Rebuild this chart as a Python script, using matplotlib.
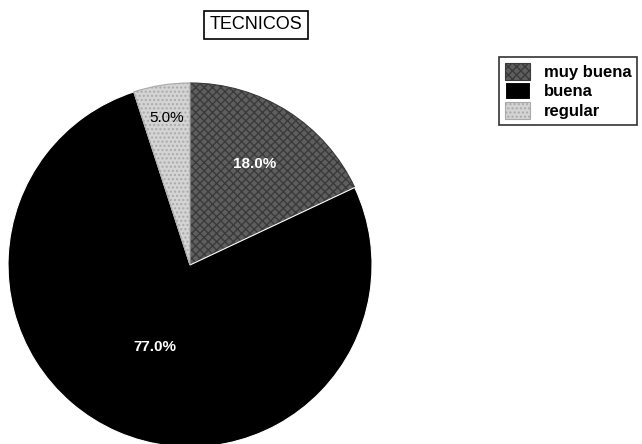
import matplotlib.pyplot as plt
import numpy as np

plt.rcParams['font.family'] = ['Liberation Sans', 'DejaVu Sans']

categorias = ['muy buena', 'buena', 'regular']
valores = [18.0, 77.0, 5.0]
colores = ['#5e5e5e', '#000000', '#d4d4d4']
etiquetas_color = ['white', 'white', 'black']
dist_etiqueta = [0.66, 0.49, 0.82]

fig = plt.figure(figsize=(6.42, 4.44), dpi=100)
ax = fig.add_axes([0.0125, -0.0068, 0.567, 0.82])

wedges, texts, autotexts = ax.pie(valores, colors=colores, startangle=90,
                                  counterclock=False, autopct='%1.1f%%',
                                  wedgeprops=dict(linewidth=0.8, edgecolor='white'))
wedges[0].set_hatch('xxxx')
wedges[0].set_edgecolor('#3a3a3a')
wedges[2].set_hatch('....')
wedges[2].set_edgecolor('#aaaaaa')

for w, t, c, d in zip(wedges, autotexts, etiquetas_color, dist_etiqueta):
    ang = np.deg2rad((w.theta1 + w.theta2) / 2)
    t.set_position((d * np.cos(ang), d * np.sin(ang)))
    t.set_color(c)
    t.set_fontsize(11)
    t.set_fontweight('bold' if c == 'white' else 'normal')

ax.set_xlim(-1, 1)
ax.set_ylim(-1, 1)
ax.set_aspect('equal')

fig.text(0.399, 0.944, 'TECNICOS', ha='center', va='center', fontsize=13,
         bbox=dict(boxstyle='square,pad=0.3', facecolor='white', edgecolor='black', linewidth=1.2))

leg = fig.legend(wedges, categorias, loc='upper left', bbox_to_anchor=(0.778, 0.872),
                 frameon=True, fancybox=False, edgecolor='black', fontsize=12,
                 handlelength=1.5, handleheight=1.2, handletextpad=0.8,
                 borderpad=0.35, labelspacing=0.15, borderaxespad=0)
leg.get_frame().set_linewidth(1.2)
for txt in leg.get_texts():
    txt.set_fontweight('bold')

plt.savefig('out.png', dpi=100)
